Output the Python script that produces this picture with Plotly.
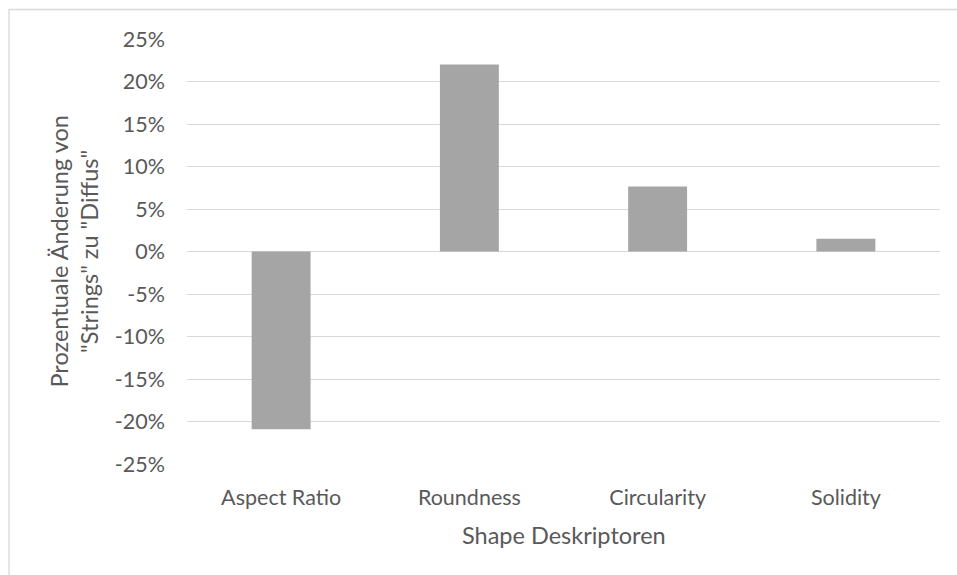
import plotly.graph_objects as go

# Shape descriptors and percentage change from "Strings" to "Diffus"
categories = ["Aspect Ratio", "Roundness", "Circularity", "Solidity"]
change = [-0.209, 0.220, 0.0765, 0.015]

tick_vals = [-0.25, -0.20, -0.15, -0.10, -0.05, 0.0, 0.05, 0.10, 0.15, 0.20, 0.25]
tick_text = ["-25%", "-20%", "-15%", "-10%", "-5%", "0%", "5%", "10%", "15%", "20%", "25%"]

x_title = "Shape Deskriptoren"
y_title = "Prozentuale Änderung von<br>\"Strings\" zu \"Diffus\""

FONT = "Lato, 'Open Sans', sans-serif"
TEXT = "#595959"
GRID = "#D9D9D9"
TICK_SIZE = 21.5
TITLE_SIZE = 23.5

fig = go.Figure(
    go.Bar(
        x=categories,
        y=change,
        width=0.313,
        marker=dict(color="#A5A5A5", line=dict(width=0)),
        hoverinfo="skip",
    )
)

fig.update_layout(
    width=957,
    height=575,
    margin=dict(l=187, r=17, t=39, b=111),
    paper_bgcolor="white",
    plot_bgcolor="white",
    showlegend=False,
    font=dict(family=FONT, size=TICK_SIZE, color=TEXT),
)

fig.update_xaxes(
    showgrid=False,
    showline=False,
    zeroline=False,
    ticks="",
    ticklabelstandoff=18,
    tickfont=dict(family=FONT, size=TICK_SIZE, color=TEXT),
    automargin=False,
)

fig.update_yaxes(
    range=[-0.25, 0.25],
    tickvals=tick_vals,
    ticktext=tick_text,
    showgrid=True,
    gridcolor=GRID,
    gridwidth=1.3,
    zeroline=True,
    zerolinecolor=GRID,
    zerolinewidth=1.3,
    showline=False,
    ticks="",
    ticklabelstandoff=21,
    tickfont=dict(family=FONT, size=TICK_SIZE, color=TEXT),
    automargin=False,
)

# Axis titles
fig.add_annotation(
    text=x_title, xref="paper", yref="paper",
    x=0.5, y=-0.168, xanchor="center", yanchor="middle",
    showarrow=False, font=dict(family=FONT, size=TITLE_SIZE, color=TEXT),
)
fig.add_annotation(
    text=y_title, xref="paper", yref="paper",
    x=-0.150, y=0.50, xanchor="center", yanchor="middle",
    textangle=-90, showarrow=False,
    font=dict(family=FONT, size=TITLE_SIZE, color=TEXT),
)

# Chart-area frame
fig.add_shape(
    type="rect", xref="paper", yref="paper",
    x0=-0.2364, x1=1.1, y0=-0.35, y1=1.0694,
    line=dict(color="#D9D9D9", width=1.3),
    fillcolor="rgba(0,0,0,0)", layer="below",
)

fig.write_html("out.html")
